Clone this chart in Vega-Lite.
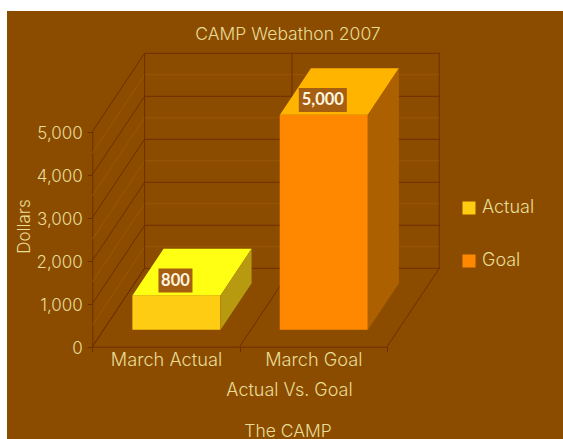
{
"$schema":"https://vega.github.io/schema/vega-lite/v6.json",
"width":556,"height":428,
"autosize":{"type":"none"},
"padding":{"left":7,"top":11,"right":0,"bottom":0},
"background":"#ffffff",
"view":{"fill":"#8B4C00","stroke":null},
"title":{"text":"CAMP Webathon 2007","subtitle":"The CAMP","anchor":"middle","offset":-429,"dx":3,"baseline":"top","font":"Inter","fontSize":17.5,"fontWeight":300,"color":"#E8DC96","subtitleFont":"Inter","subtitleFontSize":17.5,"subtitleFontWeight":300,"subtitleColor":"#E8DC96","subtitlePadding":379},
"config":{"font":"Inter","text":{"font":"Inter"}},
"datasets":{
"bars":[{"cat":"March Actual","series":"Actual","value":800},{"cat":"March Goal","series":"Goal","value":5000}],
"major":[{"cat":"March Actual","value":0},{"cat":"March Actual","value":1000},{"cat":"March Actual","value":2000},{"cat":"March Actual","value":3000},{"cat":"March Actual","value":4000},{"cat":"March Actual","value":5000}],
"minor":[{"cat":"March Actual","value":500},{"cat":"March Actual","value":1500},{"cat":"March Actual","value":2500},{"cat":"March Actual","value":3500},{"cat":"March Actual","value":4500}],
"frame":[{"cat":"March Actual","value":0},{"cat":"March Goal","value":0}]
},
"encoding":{
"x":{"field":"cat","type":"nominal","sort":null,"scale":{"type":"band","domain":["March Actual","March Goal"],"range":[85.3,380],"paddingInner":0,"paddingOuter":0},
"axis":{"title":"Actual Vs. Goal","titleX":282,"titleY":44,"titleBaseline":"middle","titleFont":"Inter","titleFontSize":18,"titleFontWeight":300,"titleColor":"#E8DC96","labelFont":"Inter","labelFontSize":18.2,"labelFontWeight":300,"labelColor":"#E8DC96","labelAngle":0,"labelPadding":0,"offset":-92.3,"tickBand":"extent","tickSize":5,"tickColor":"#6E2E00","domainColor":"#6E2E00","grid":false}},
"y":{"field":"value","type":"quantitative","scale":{"domain":[0,5000],"range":[335.7,120.7],"nice":false},
"axis":{"title":"Dollars","values":[0,1000,2000,3000,4000,5000],"format":",.0f","titleX":-59,"titleY":215,"titleFont":"Inter","titleFontSize":17,"titleFontWeight":300,"titleColor":"#E8DC96","labelFont":"Inter","labelFontSize":17,"labelFontWeight":300,"labelColor":"#E8DC96","labelPadding":5,"labelOffset":2,"offset":-85.3,"tickSize":5,"tickColor":"#6E2E00","domainColor":"#6E2E00","grid":false}}
},
"layer":[
{"data":{"name":"minor"},"mark":{"type":"point","shape":"M0,0L52.3,-78.4L348,-78.4","size":4,"filled":false,"opacity":1,"stroke":"#9A5707","strokeWidth":1},"encoding":{"x":{"field":"cat","type":"nominal","bandPosition":0}}},
{"data":{"name":"major"},"mark":{"type":"point","shape":"M0,0L52.3,-78.4L348,-78.4","size":4,"filled":false,"opacity":1,"stroke":"#6E2E00","strokeWidth":1},"encoding":{"x":{"field":"cat","type":"nominal","bandPosition":0}}},
{"data":{"name":"frame"},"mark":{"type":"point","shape":"M0,0L52.3,-78.4V-293.4","size":4,"filled":false,"opacity":1,"stroke":"#6E2E00","strokeWidth":1},"encoding":{"x":{"field":"cat","type":"nominal","bandPosition":0}}},
{"data":{"name":"frame"},"transform":[{"filter":"datum.cat==='March Goal'"}],"mark":{"type":"point","shape":"M0,0L52.3,-78.4V-293.4","size":4,"filled":false,"opacity":1,"stroke":"#6E2E00","strokeWidth":1},"encoding":{"x":{"field":"cat","type":"nominal","bandPosition":1}}},
{"data":{"name":"bars"},"mark":{"type":"bar","width":88,"xOffset":10.4,"x2Offset":10.4,"yOffset":-17,"y2Offset":-17},"encoding":{"color":{"field":"series","type":"nominal","scale":{"domain":["Actual","Goal"],"range":["#FFCC14","#FF8800"]},"legend":{"title":null,"orient":"none","legendX":453,"legendY":188,"padding":0,"symbolType":"square","symbolSize":169,"symbolStrokeWidth":0,"symbolOpacity":1,"labelFont":"Inter","labelFontSize":18,"labelFontWeight":300,"labelColor":"#E8DC96","labelOffset":4,"rowPadding":35}}}},
{"data":{"name":"bars"},"mark":{"type":"point","shape":"M-33.4,-17L54.6,-17L85.6,-63.5L-2.4,-63.5Z","size":4,"filled":true,"opacity":1,"strokeWidth":0},"encoding":{"fill":{"condition":{"test":"datum.series==='Actual'","value":"#FFFF14"},"value":"#FFB400"}}},
{"data":{"name":"bars"},"transform":[{"filter":"datum.series==='Actual'"}],"mark":{"type":"point","shape":"M54.6,-17L85.6,-63.5L85.6,-29.1L54.6,17.4Z","size":4,"filled":true,"opacity":1,"strokeWidth":0,"fill":"#B89A10"}},
{"data":{"name":"bars"},"transform":[{"filter":"datum.series==='Goal'"}],"mark":{"type":"point","shape":"M54.6,-17L85.6,-63.5L85.6,151.5L54.6,198Z","size":4,"filled":true,"opacity":1,"strokeWidth":0,"fill":"#AD6000"}},
{"data":{"name":"bars"},"transform":[{"filter":"datum.series==='Actual'"}],"mark":{"type":"point","shape":"M-7.5,-43.7H26.5V-19.7H-7.5Z","size":4,"filled":true,"opacity":1,"strokeWidth":0,"fill":"#A65E10"}},
{"data":{"name":"bars"},"transform":[{"filter":"datum.series==='Goal'"}],"mark":{"type":"point","shape":"M-14.5,-43.7H33.5V-19.7H-14.5Z","size":4,"filled":true,"opacity":1,"strokeWidth":0,"fill":"#A65E10"}},
{"data":{"name":"bars"},"mark":{"type":"text","dx":9.5,"dy":-31.7,"font":"Lato","fontSize":16.5,"fontWeight":"bold","color":"#FFF6E0"},"encoding":{"text":{"field":"value","type":"quantitative","format":",.0f"}}}
]
}
